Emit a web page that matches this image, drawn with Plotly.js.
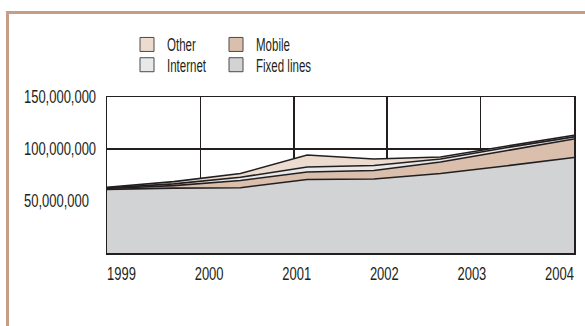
<!DOCTYPE html>
<html>
<head>
<meta charset="utf-8">
<script src="https://cdn.plot.ly/plotly-3.0.1.min.js"></script>
<style>
  html, body { margin: 0; padding: 0; background: #ffffff; overflow: hidden; }
  #wrap { position: relative; width: 585px; height: 326px; }
  #frame { position: absolute; left: 6px; top: 11px; width: 700px; height: 400px;
           border-left: 3px solid #c69d85; border-top: 3px solid #c69d85; pointer-events: none; }
  #chart { position: absolute; left: 0; top: 0; width: 585px; height: 326px; }
</style>
</head>
<body>
<div id="wrap">
  <div id="chart"></div>
  <div id="frame"></div>
</div>
<script>
// Data periods (8 evenly spaced observations from 1999 to 2004)
const periods = [0, 1, 2, 3, 4, 5, 6, 7];
const years = [1999, 2000, 2001, 2002, 2003, 2004];
const yearLabels = ['1999', '2000', '2001', '2002', '2003', '2004'];

// Series values (subscribers), stacked bottom to top
const fixedLines = [61200000, 62400000, 62800000, 70700000, 71200000, 76400000, 83900000, 91800000];
const mobile     = [  800000,  2400000,  6900000,  7200000,  8100000, 11100000, 14700000, 17800000];
const internet   = [  600000,  1700000,  3100000,  4800000,  4800000,  2900000,  2800000,  2100000];
const other      = [  600000,  2100000,  3600000, 11500000,  6300000,  1900000,  1500000,  1500000];

const yTicks = [50000000, 100000000, 150000000];

const FONT = '"Liberation Sans", Arial, sans-serif';
const INK = '#231f20';
const colors = {
  fixed: '#d2d3d5',
  mobile: '#dbbfad',
  internet: '#e7e8e9',
  other: '#ecdcd0'
};

function area(name, vals, color) {
  return {
    type: 'scatter', mode: 'lines', name: name,
    x: periods, y: vals, stackgroup: 'one',
    line: { color: INK, width: 1.6 },
    fillcolor: color, showlegend: false, hoverinfo: 'skip'
  };
}
function legendItem(name, color, legendId) {
  return {
    type: 'bar', name: name, x: [null], y: [null],
    marker: { color: color, line: { color: '#4a4a4a', width: 1 } },
    showlegend: true, legend: legendId, hoverinfo: 'skip'
  };
}

const traces = [
  area('Fixed lines', fixedLines, colors.fixed),
  area('Mobile', mobile, colors.mobile),
  area('Internet', internet, colors.internet),
  area('Other', other, colors.other),
  legendItem('Other', colors.other, 'legend'),
  legendItem('Mobile', colors.mobile, 'legend'),
  legendItem('Internet', colors.internet, 'legend2'),
  legendItem('Fixed lines', colors.fixed, 'legend2'),
  // empty carriers so the label axes are drawn
  { type: 'scatter', x: [], y: [], xaxis: 'x2', yaxis: 'y', showlegend: false, hoverinfo: 'skip' },
  { type: 'scatter', x: [], y: [], xaxis: 'x', yaxis: 'y2', showlegend: false, hoverinfo: 'skip' }
];

// Positions of the year grid lines on the period axis
const nP = periods.length - 1;
const gridVals = years.map(y => (y - years[0]) * nP / (years[years.length - 1] - years[0]));

const W = 585, H = 326, ML = 20, MR = 11, MT = 97, MB = 73;
const plotLeftPx = 107;
const domStart = (plotLeftPx - ML) / (W - ML - MR);

const legendCommon = {
  orientation: 'h', xanchor: 'left', yanchor: 'middle',
  font: { family: FONT, size: 18, color: INK },
  bgcolor: 'rgba(0,0,0,0)', traceorder: 'normal',
  entrywidth: 44, entrywidthmode: 'pixels', itemclick: false, itemdoubleclick: false,
  tracegroupgap: 0
};

const layout = {
  width: W, height: H,
  margin: { l: ML, r: MR, t: MT, b: MB, pad: 0 },
  paper_bgcolor: 'rgba(0,0,0,0)', plot_bgcolor: '#ffffff',
  font: { family: FONT, size: 18, color: INK },
  showlegend: true,
  xaxis: {
    domain: [domStart, 1],
    range: [0, nP], tickmode: 'array', tickvals: gridVals,
    showticklabels: false, ticks: '',
    showgrid: true, gridcolor: INK, gridwidth: 1.5,
    showline: true, linecolor: INK, linewidth: 1.5, mirror: true,
    zeroline: false, fixedrange: true
  },
  xaxis2: {
    domain: [domStart, 1],
    overlaying: 'x', side: 'bottom', anchor: 'y',
    range: [1998.8345, 2004.1655], tickmode: 'array', tickvals: years, ticktext: yearLabels,
    showgrid: false, showline: false, zeroline: false, ticks: '',
    ticklabelstandoff: 8,
    tickfont: { family: FONT, size: 18, color: INK }, fixedrange: true
  },
  yaxis: {
    range: [0, 150000000], tickmode: 'array', tickvals: yTicks,
    showticklabels: false,
    showgrid: true, gridcolor: INK, gridwidth: 1.5,
    showline: true, linecolor: INK, linewidth: 1.5, mirror: true,
    zeroline: false, ticks: '', fixedrange: true
  },
  yaxis2: {
    overlaying: 'y', anchor: 'free', position: 0, side: 'right',
    range: [0, 150000000], tickmode: 'array', tickvals: yTicks, tickformat: ',d',
    showgrid: false, showline: false, zeroline: false, ticks: '',
    ticklabelstandoff: 3,
    tickfont: { family: FONT, size: 18, color: INK }, fixedrange: true
  },
  legend: Object.assign({}, legendCommon, { x: (127 - ML) / (W - ML - MR), y: 1.335 }),
  legend2: Object.assign({}, legendCommon, { x: (127 - ML) / (W - ML - MR), y: 1.205 })
};

function condense() {
  const legendGroups = Array.from(document.querySelectorAll('#chart .infolayer > g'))
    .filter(g => /^legend\d*$/.test(g.getAttribute('class') || ''));
  const inLegend = el => legendGroups.some(g => g.contains(el));
  document.querySelectorAll('#chart svg text').forEach(t => {
    const w = t.getComputedTextLength();
    if (w > 0) {
      const k = inLegend(t) ? 0.64 : 0.72;
      t.setAttribute('textLength', (w * k).toFixed(2));
      t.setAttribute('lengthAdjust', 'spacingAndGlyphs');
    }
  });
  legendGroups.forEach(g => {
    // entries are narrower than their uncondensed text: do not clip them
    g.querySelectorAll('[clip-path]').forEach(e => e.removeAttribute('clip-path'));
    g.querySelectorAll('.legendpoints path').forEach(p => p.setAttribute('d', 'M7,7H-7V-7H7Z'));
  });
}

Plotly.newPlot('chart', traces, layout, { displayModeBar: false, staticPlot: true }).then(condense);
</script>
</body>
</html>
